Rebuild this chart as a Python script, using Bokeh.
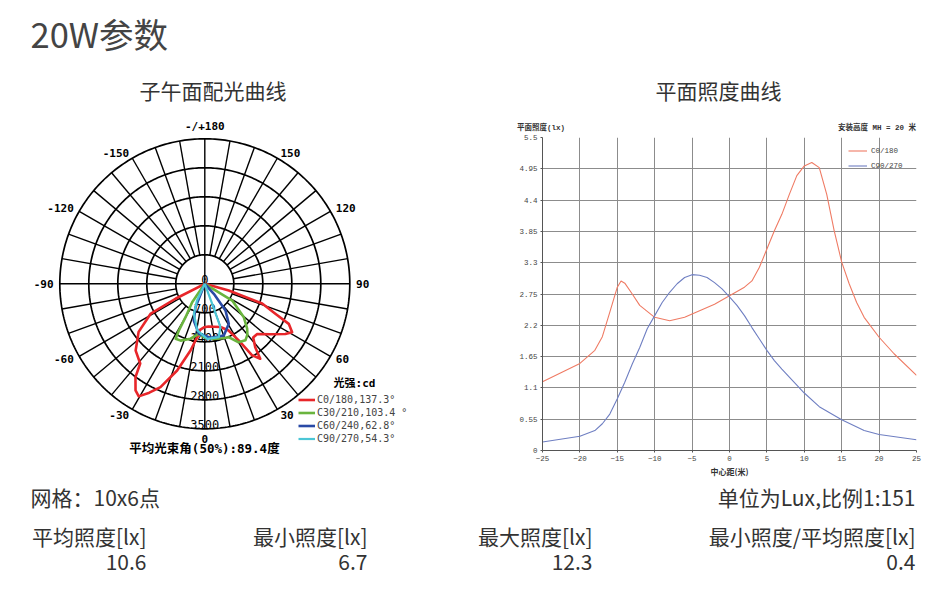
import numpy as np
from bokeh.plotting import figure
from bokeh.models import Range1d, Label, Legend, LegendItem, FixedTicker, ColumnDataSource, Div
from bokeh.layouts import column, row
from bokeh.embed import file_html
from bokeh.resources import INLINE
from bokeh.core.properties import value

# ---------------- data ----------------
red_gamma = [-65, -63, -61, -54, -46, -39, -36.6, -33, -30.4, -27, -23.2, -17.7, -12.1, -8.1, -6, -1,
             5, 12, 20, 27, 31, 33.5, 36.5, 38.5, 42, 46, 52.5, 58, 61, 64.5, 67, 71, 74.5, 76]
red_cd = [0, 795, 1500, 1975, 2320, 2477, 2807, 3070, 3150, 2950, 2715, 2196, 1646, 1302, 1120, 1050,
          1035, 1060, 1110, 1265, 1600, 2070, 2250, 1955, 1745, 1750, 2000, 2290, 2410, 2245, 1850, 1465, 600, 0]
green_gamma = [-36, -34.4, -30, -29, -28, -23, -14.6, -6.8, 0, 9, 18, 24, 30, 35.7, 40, 43.3, 49.4, 58.6, 63]
green_cd = [0, 540, 930, 1290, 1500, 1490, 1370, 1215, 1300, 1345, 1380, 1410, 1630, 1680, 1600, 1490, 1240, 775, 0]
blue_gamma = [-25, -21.7, -16.7, -6.8, 6, 20.2, 31, 37.8, 42, 45]
blue_cd = [0, 607, 925, 1215, 1310, 1330, 1125, 815, 325, 0]
cyan_gamma = [-30, -25, -20, -9.2, 2.5, 14.7, 19.9, 20.3, 21]
cyan_cd = [0, 450, 770, 1140, 1330, 1330, 1110, 515, 0]
series_labels = ["C0/180,137.3°", "C30/210,103.4 °", "C60/240,62.8°", "C90/270,54.3°"]
series_colors = ["#e8262a", "#6ab43e", "#2a4aa6", "#4cc6d6"]

ring_values = [700, 1400, 2100, 2800, 3500]
radial_labels = ["0", "700", "1400", "2100", "2800", "3500"]
angle_ticks = [180, 150, 120, 90, 60, 30, 0, -30, -60, -90, -120, -150]
angle_labels = ["-/+180", "150", "120", "90", "60", "30", "0", "-30", "-60", "-90", "-120", "-150"]

c0_x = [-25, -20, -18, -17, -16, -15, -14.5, -14, -13, -12, -10, -8, -6, -5, -2, 0, 2, 3, 4, 5,
        6, 7, 8, 9, 10, 11, 12, 13, 14, 15, 16, 17, 18, 20, 22, 25]
c0_lux = [1.21, 1.53, 1.76, 2.0, 2.43, 2.87, 2.98, 2.94, 2.75, 2.55, 2.34, 2.28, 2.34, 2.40, 2.57, 2.72, 2.87, 2.98, 3.22, 3.54,
          3.86, 4.15, 4.5, 4.83, 5.0, 5.06, 4.97, 4.5, 3.86, 3.31, 2.93, 2.6, 2.34, 1.99, 1.70, 1.32]
c90_x = [-25, -20, -18, -17, -16, -15, -14, -13, -12, -11, -10, -9, -8, -7, -6, -5, -4, -3, -2, -1,
         0, 1, 2, 3, 4, 5, 6, 7, 8, 10, 12, 15, 18, 20, 25]
c90_lux = [0.15, 0.25, 0.35, 0.47, 0.64, 0.91, 1.2, 1.52, 1.81, 2.14, 2.37, 2.6, 2.78, 2.93, 3.04, 3.09, 3.08, 3.04, 2.95, 2.84,
           2.70, 2.55, 2.37, 2.16, 1.96, 1.76, 1.58, 1.43, 1.29, 1.01, 0.77, 0.54, 0.35, 0.28, 0.19]
x_ticks = [-25, -20, -15, -10, -5, 0, 5, 10, 15, 20, 25]
y_ticks = [0, 0.55, 1.1, 1.65, 2.2, 2.75, 3.3, 3.85, 4.4, 4.95, 5.5]
y_tick_labels = ["0", "0.55", "1.1", "1.65", "2.2", "2.75", "3.3", "3.85", "4.4", "4.95", "5.5"]

stat_names = ["平均照度[lx]", "最小照度[lx]", "最大照度[lx]", "最小照度/平均照度[lx]"]
stat_values = ["10.6", "6.7", "12.3", "0.4"]

CJK = "'Noto Sans CJK SC'"
MONO = "'DejaVu Sans Mono', 'Noto Sans CJK SC'"
LMONO = "'Liberation Mono', 'Noto Sans CJK SC'"


def blank(w, h):
    p = figure(width=w, height=h, frame_width=w, frame_height=h, x_range=Range1d(0, w), y_range=Range1d(h, 0),
               output_backend="svg", toolbar_location=None, x_axis_type=None, y_axis_type=None,
               min_border=0, title=None)
    p.outline_line_color = None
    return p


# ---------------- header ----------------
head = blank(945, 108)
head.add_layout(Label(x=30, y=32, text="20W参数", text_font=CJK, text_font_size="34.5px",
                      text_color="#444444", text_baseline="middle"))
head.add_layout(Label(x=212.5, y=89, text="子午面配光曲线", text_font=CJK, text_font_size="21px",
                      text_color="#333333", text_align="center", text_baseline="middle"))
head.add_layout(Label(x=718, y=89, text="平面照度曲线", text_font=CJK, text_font_size="21px",
                      text_color="#333333", text_align="center", text_baseline="middle"))

# ---------------- polar chart ----------------
PW, PH = 470, 372
CX, CY = 204.3, 175.3
S = 700 / 29.0
p1 = figure(width=PW, height=PH, x_range=Range1d(-CX * S, (PW - CX) * S),
            y_range=Range1d(-(PH - CY) * S, CY * S), output_backend="svg",
            toolbar_location=None, x_axis_type=None, y_axis_type=None, min_border=0,
            frame_width=PW, frame_height=PH, title=None)
p1.outline_line_color = None

th = np.linspace(0, 2 * np.pi, 361)
p1.multi_line(xs=[list(r * np.cos(th)) for r in ring_values], ys=[list(r * np.sin(th)) for r in ring_values],
              line_color="black", line_width=1.7)
sx, sy = [], []
for a in range(0, 360, 10):
    r0 = 0 if a % 90 == 0 else ring_values[0]
    r1 = ring_values[-1]
    ar = np.radians(a)
    sx.append([r0 * np.sin(ar), r1 * np.sin(ar)])
    sy.append([-r0 * np.cos(ar), -r1 * np.cos(ar)])
p1.multi_line(xs=sx, ys=sy, line_color="black", line_width=1.4)

R_LAB = 3650
al, bl = [], []
for a in angle_ticks:
    if a in (0, 180):
        al.append("center")
        bl.append("bottom" if a == 180 else "top")
    else:
        al.append("left" if a > 0 else "right")
        bl.append("middle")
lab_src = ColumnDataSource(dict(
    x=[R_LAB * np.sin(np.radians(a)) for a in angle_ticks],
    y=[-R_LAB * np.cos(np.radians(a)) for a in angle_ticks],
    t=angle_labels, al=al, bl=bl))
p1.text(x="x", y="y", text="t", text_align="al", text_baseline="bl", source=lab_src,
        text_font=value(MONO), text_font_size=value("11px"), text_font_style="bold", text_color="black")
p1.text(x=[0] * len(radial_labels), y=[-float(v) for v in radial_labels], text=radial_labels,
        text_font=value(MONO), text_font_size=value("12px"), text_align="center",
        text_baseline="bottom", text_color="black")

renderers = []
for g, c, col, lw in [(red_gamma, red_cd, series_colors[0], 2.6), (green_gamma, green_cd, series_colors[1], 2.6),
                      (blue_gamma, blue_cd, series_colors[2], 2.6), (cyan_gamma, cyan_cd, series_colors[3], 2.2)]:
    ga = np.radians(np.array(g, dtype=float))
    cd = np.array(c, dtype=float)
    renderers.append(p1.line(x=list(cd * np.sin(ga)), y=list(-cd * np.cos(ga)), line_color=col,
                             line_width=lw, line_join="round"))

leg1 = Legend(items=[LegendItem(label=l, renderers=[r]) for l, r in zip(series_labels, renderers)],
              location=(298, 35), glyph_width=17, glyph_height=13, label_height=13, label_standoff=2,
              spacing=0, padding=0, margin=0, label_text_font="DejaVu Sans Mono",
              label_text_font_size="10px", border_line_color=None, background_fill_alpha=0)
p1.add_layout(leg1)


def pdat(px, py):
    return (px - CX) * S, (CY - py) * S


lx, ly = pdat(354, 275)
p1.add_layout(Label(x=lx, y=ly, text="光强:cd", text_font=MONO, text_font_size="11px", text_font_style="bold",
                    text_align="center", text_baseline="middle", text_color="black"))
bx, by = pdat(204, 340)
p1.add_layout(Label(x=bx, y=by, text="平均光束角(50%):89.4度", text_font=MONO, text_font_size="12.5px",
                    text_font_style="bold", text_align="center", text_baseline="middle", text_color="black"))

# ---------------- plane illuminance chart ----------------
span_style = ("position:absolute;top:15.5px;line-height:9px;white-space:nowrap;"
              "font-family:'Liberation Mono','Noto Sans CJK SC';font-size:7.5px;font-weight:bold;color:#333333;")
p2h = Div(width=475, height=24, margin=0,
          text=('<div style="position:relative;width:475px;height:24px;">'
                '<span style="' + span_style + 'left:47px;">平面照度(lx)</span>'
                '<span style="' + span_style + 'right:29px;">安装高度 MH = 20 米</span></div>'))

p2 = figure(width=475, height=348, x_range=Range1d(-25, 25), y_range=Range1d(0, 5.5),
            output_backend="svg", toolbar_location=None, title=None,
            min_border_left=72, min_border_right=29, min_border_top=5, min_border_bottom=30)
p2.outline_line_color = None
p2.xaxis.ticker = FixedTicker(ticks=x_ticks)
p2.yaxis.ticker = FixedTicker(ticks=y_ticks)
p2.yaxis.major_label_overrides = {t: s for t, s in zip(y_ticks, y_tick_labels)}
p2.xgrid.ticker = FixedTicker(ticks=x_ticks)
p2.ygrid.ticker = FixedTicker(ticks=y_ticks)
p2.grid.grid_line_color = "#8c8c8c"
p2.grid.grid_line_width = 1
for ax in (p2.xaxis[0], p2.yaxis[0]):
    ax.axis_line_color = "#555555"
    ax.major_tick_in = 0
    ax.major_tick_out = 2
    ax.minor_tick_out = 0
    ax.minor_tick_in = 0
    ax.major_tick_line_color = "#555555"
    ax.major_label_text_font = "Liberation Mono"
    ax.major_label_text_font_size = "7.5px"
    ax.major_label_text_color = "#444444"
    ax.major_label_standoff = 3
p2.xaxis.axis_label = "中心距(米)"
p2.xaxis.axis_label_text_font = "Noto Sans CJK SC"
p2.xaxis.axis_label_text_font_size = "8px"
p2.xaxis.axis_label_text_font_style = "bold"
p2.xaxis.axis_label_text_color = "#333333"
p2.xaxis.axis_label_standoff = 2

l_c0 = p2.line(c0_x, c0_lux, line_color="#ef7b64", line_width=1.1)
l_c90 = p2.line(c90_x, c90_lux, line_color="#6f7fc2", line_width=1.1)
leg2 = Legend(items=[LegendItem(label="C0/180", renderers=[l_c0]), LegendItem(label="C90/270", renderers=[l_c90])],
              location=(306, 277), glyph_width=19, glyph_height=15, label_height=15, label_standoff=4,
              spacing=0, padding=0, margin=0, label_text_font="Liberation Mono", label_text_font_size="7.5px",
              label_text_color="#444444", border_line_color=None, background_fill_alpha=0)
p2.add_layout(leg2)

# ---------------- footer ----------------
foot = blank(945, 122)
foot.add_layout(Label(x=30, y=16, text="网格：10x6点", text_font=CJK, text_font_size="21px",
                      text_color="#333333", text_align="left", text_baseline="middle"))
foot.add_layout(Label(x=915, y=16, text="单位为Lux,比例1:151", text_font=CJK, text_font_size="21px",
                      text_color="#333333", text_align="right", text_baseline="middle"))
stat_right = [146, 367, 592, 915]
for xr, nm, vl in zip(stat_right, stat_names, stat_values):
    foot.add_layout(Label(x=xr, y=55, text=nm, text_font=CJK, text_font_size="21px",
                          text_color="#333333", text_align="right", text_baseline="middle"))
    foot.add_layout(Label(x=xr, y=81, text=vl, text_font=CJK, text_font_size="21px",
                          text_color="#333333", text_align="right", text_baseline="middle"))

layout = column(head, row(p1, column(p2h, p2)), foot)
open("out.html", "w").write(file_html(layout, INLINE))
